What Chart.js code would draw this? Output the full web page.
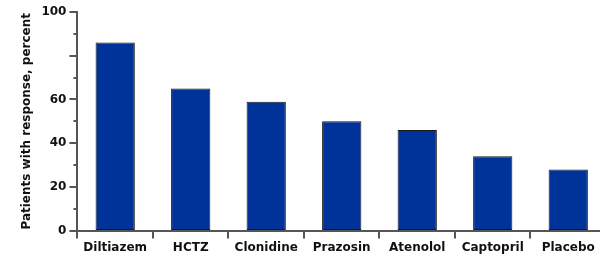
<!DOCTYPE html>
<html>
<head>
<meta charset="utf-8">
<script src="https://cdn.jsdelivr.net/npm/chart.js@4/dist/chart.umd.min.js"></script>
<style>
  html, body { margin: 0; padding: 0; background: #fff; overflow: hidden; }
  canvas { display: block; }
</style>
</head>
<body>
<canvas id="myChart" width="606" height="259"></canvas>
<script>
var drugs = ['Diltiazem', 'HCTZ', 'Clonidine', 'Prazosin', 'Atenolol', 'Captopril', 'Placebo'];
var responsePct = [86, 65, 59, 50, 46, 34, 28];
var yLabels = [0, 20, 40, 60, 100];

var axisColor = '#555555';

// draws the y tick marks: long at every 20, short at every 10
var yTickMarks = {
    id: 'yTickMarks',
    afterDraw: function(chart) {
        var ctx = chart.ctx;
        var y = chart.scales.y;
        ctx.save();
        ctx.strokeStyle = axisColor;
        ctx.lineWidth = 2;
        y.ticks.forEach(function(t) {
            var py = Math.round(y.getPixelForValue(t.value));
            var len = (t.value % 20 === 0) ? 8 : 4;
            ctx.beginPath();
            ctx.moveTo(y.right - len, py);
            ctx.lineTo(y.right, py);
            ctx.stroke();
        });
        ctx.restore();
    }
};

var myChart = new Chart(document.getElementById('myChart'), {
    type: 'bar',
    data: {
        labels: drugs,
        datasets: [{
            data: responsePct,
            backgroundColor: '#003399',
            borderColor: '#1a1a1a',
            borderWidth: 1,
            borderSkipped: false,
            categoryPercentage: 1,
            barPercentage: 0.52
        }]
    },
    options: {
        responsive: false,
        animation: false,
        layout: { padding: { top: 12, right: 0, left: 20, bottom: 2 } },
        plugins: {
            legend: { display: false },
            tooltip: { enabled: false }
        },
        scales: {
            x: {
                grid: {
                    drawOnChartArea: false,
                    color: axisColor,
                    lineWidth: 2,
                    tickLength: 8
                },
                border: { color: axisColor, width: 2 },
                ticks: {
                    color: '#111',
                    padding: 2,
                    maxRotation: 0,
                    font: { family: 'DejaVu Sans', weight: 'bold', size: 12 }
                }
            },
            y: {
                min: 0,
                max: 100,
                grid: {
                    drawOnChartArea: false,
                    tickLength: 8,
                    tickColor: 'rgba(0,0,0,0)'
                },
                border: { color: axisColor, width: 2 },
                ticks: {
                    stepSize: 10,
                    autoSkip: false,
                    color: '#111',
                    padding: 3,
                    font: { family: 'DejaVu Sans', weight: 'bold', size: 12 },
                    callback: function(v) {
                        return yLabels.indexOf(v) >= 0 ? v : '';
                    }
                },
                title: {
                    display: true,
                    text: 'Patients with response, percent',
                    color: '#111',
                    padding: { top: 0, bottom: 4 },
                    font: { family: 'DejaVu Sans', weight: 'bold', size: 12 }
                }
            }
        }
    },
    plugins: [yTickMarks]
});
</script>
</body>
</html>
